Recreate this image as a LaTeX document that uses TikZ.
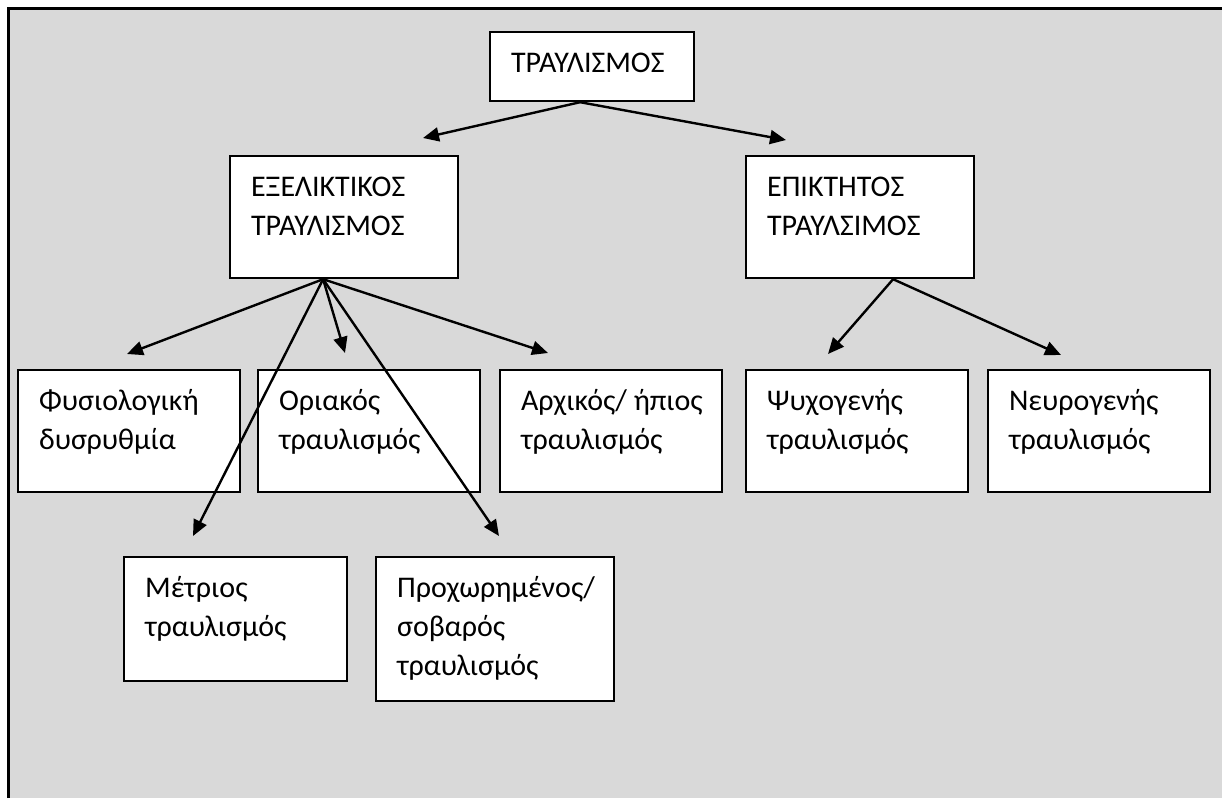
\documentclass[tikz,border=0pt]{standalone}
\usepackage{fontspec}
\setmainfont{Carlito}
\usetikzlibrary{arrows.meta,calc}
\definecolor{bggray}{RGB}{217,217,217}
\newcommand{\boxtxt}[3]{\parbox[t][#2][t]{#1}{\raggedright\leftskip=21pt\rule{0pt}{40pt}#3}}
\begin{document}
\begin{tikzpicture}[x=1pt,y=1pt,
  boxst/.style={draw, line width=2.2pt, fill=white, inner sep=0pt, anchor=north west,
    font=\fontsize{30}{39}\selectfont},
  arr/.style={line width=2.4pt, -{Triangle[length=16pt,width=14pt]}}]
\useasboundingbox (0,0) rectangle (1222,-798);
\fill[white] (0,0) rectangle (1222,-798);
\fill[bggray] (8.5,-8.5) rectangle (1222,-798);
\draw[line width=2.7pt] (8.5,-798) -- (8.5,-8.5) -- (1222,-8.5);

\node[boxst] (top) at (489,-31) {\boxtxt{204pt}{69pt}{ΤΡΑΥΛΙΣΜΟΣ}};
\node[boxst] (evo) at (229,-155) {\boxtxt{228pt}{122pt}{ΕΞΕΛΙΚΤΙΚΟΣ\\ΤΡΑΥΛΙΣΜΟΣ}};
\node[boxst] (acq) at (745,-155) {\boxtxt{228pt}{122pt}{ΕΠΙΚΤΗΤΟΣ\\ΤΡΑΥΛΣΙΜΟΣ}};
\node[boxst] (fys) at (17,-369) {\boxtxt{222pt}{122pt}{Φυσιολογική\\δυσρυθμία}};
\node[boxst] (ori) at (257,-369) {\boxtxt{222pt}{122pt}{Οριακός\\τραυλισμός}};
\node[boxst] (arx) at (499,-369) {\boxtxt{222pt}{122pt}{Αρχικός/ ήπιος\\τραυλισμός}};
\node[boxst] (psy) at (745,-369) {\boxtxt{222pt}{122pt}{Ψυχογενής\\τραυλισμός}};
\node[boxst] (neu) at (987,-369) {\boxtxt{222pt}{122pt}{Νευρογενής\\τραυλισμός}};
\node[boxst] (met) at (123,-556) {\boxtxt{223pt}{124pt}{Μέτριος\\τραυλισμός}};
\node[boxst] (pro) at (375,-556) {\boxtxt{238pt}{144pt}{Προχωρημένος/\\σοβαρός\\τραυλισμός}};

\coordinate (s0) at ([xshift=-12pt]top.south);
\coordinate (s1) at ([xshift=-21pt]evo.south);
\coordinate (s2) at ([xshift=33pt]acq.south);
\coordinate (t1) at (423,-138);
\coordinate (t2) at (786,-140);
\coordinate (e1) at (127,-354);
\coordinate (e2) at (345,-353);
\coordinate (e3) at (548,-353);
\coordinate (e4) at (193,-536);
\coordinate (e5) at (499,-536);
\coordinate (a1) at (828,-354);
\coordinate (a2) at (1061,-355);

\draw[arr] (s0) -- (t1);
\draw[arr] (s0) -- (t2);
\draw[arr] (s1) -- (e1);
\draw[arr] (s1) -- (e2);
\draw[arr] (s1) -- (e3);
\draw[arr] (s1) -- (e4);
\draw[arr] (s1) -- (e5);
\draw[arr] (s2) -- (a1);
\draw[arr] (s2) -- (a2);
\end{tikzpicture}
\end{document}
